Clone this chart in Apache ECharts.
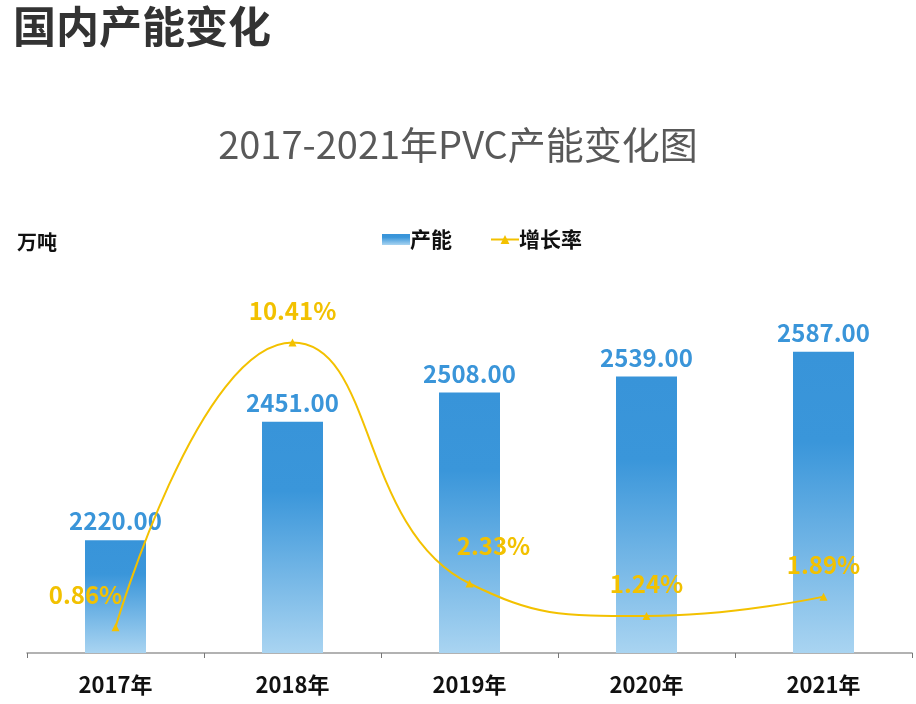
<!DOCTYPE html>
<html><head><meta charset="utf-8">
<script src="https://cdn.jsdelivr.net/npm/echarts@6/dist/echarts.min.js"></script>
<style>html,body{margin:0;padding:0;background:#fff}#c{width:916px;height:704px}</style>
</head><body><div id="c"></div>
<script>
const years = ['2017年','2018年','2019年','2020年','2021年'];
const capacity = [2220, 2451, 2508, 2539, 2587];
const growth = [0.86, 10.41, 2.33, 1.24, 1.89];

const font = '"Noto Sans CJK SC", "Noto Sans", sans-serif';
const labelOffsets = [[-30, 0], [0, 0], [24, -6], [0, 0], [0, 0]];
const chart = echarts.init(document.getElementById('c'));
chart.setOption({
  backgroundColor: '#fff',
  textStyle: { fontFamily: font },
  title: [
    { text: '国内产能变化', left: 8, top: 0, textStyle: { fontSize: 43, fontWeight: 'bold', color: '#333', fontFamily: font } },
    { text: '2017-2021年PVC产能变化图', left: 'center', top: 121, textStyle: { fontSize: 38, fontWeight: 'normal', color: '#595959', fontFamily: font } },
    { text: '万吨', left: 12, top: 227, textStyle: { fontSize: 20, fontWeight: 'bold', color: '#111', fontFamily: font } }
  ],
  legend: {
    top: 224, left: 377, itemWidth: 28, itemHeight: 11, itemGap: 38,
    textStyle: { fontSize: 21, fontWeight: 'bold', color: '#111', fontFamily: font, padding: [0, 0, 0, -5] },
    data: [
      { name: '产能', icon: 'rect' },
      { name: '增长率' }
    ]
  },
  grid: { left: 27, right: 4, top: 140, bottom: 51 },
  xAxis: {
    type: 'category', data: years,
    axisLine: { lineStyle: { color: '#999', width: 1.5 } },
    axisTick: { show: true, length: 5, lineStyle: { color: '#777' } },
    axisLabel: { fontSize: 22, fontWeight: 'bold', color: '#111', margin: 21, fontFamily: font }
  },
  yAxis: [
    { type: 'value', min: 2000, max: 3000, show: false, splitLine: { show: false } },
    { type: 'value', min: 0, max: 17.2, show: false, splitLine: { show: false } }
  ],
  series: [
    {
      name: '产能', type: 'bar', data: capacity, barWidth: 61, yAxisIndex: 0,
      itemStyle: {
        color: new echarts.graphic.LinearGradient(0, 0, 0, 1, [
          { offset: 0, color: '#3894d9' },
          { offset: 0.3, color: '#3a96da' },
          { offset: 1, color: '#a9d4f1' }
        ])
      },
      label: {
        show: true, position: 'top', distance: 7,
        formatter: p => p.value.toFixed(2),
        fontSize: 24, fontWeight: 'bold', color: '#3a95d9', fontFamily: font
      }
    },
    {
      name: '增长率', type: 'line', yAxisIndex: 1, smooth: 0.5,
      data: growth.map((v, i) => ({ value: v, label: { offset: labelOffsets[i] } })),
      symbol: 'triangle', symbolSize: 8,
      lineStyle: { color: '#f3c100', width: 2 },
      itemStyle: { color: '#f3c100' },
      label: {
        show: true, position: 'top', distance: 16,
        formatter: p => p.value.toFixed(2) + '%',
        fontSize: 24, fontWeight: 'bold', color: '#f2c100', fontFamily: font
      }
    }
  ]
});
</script></body></html>
